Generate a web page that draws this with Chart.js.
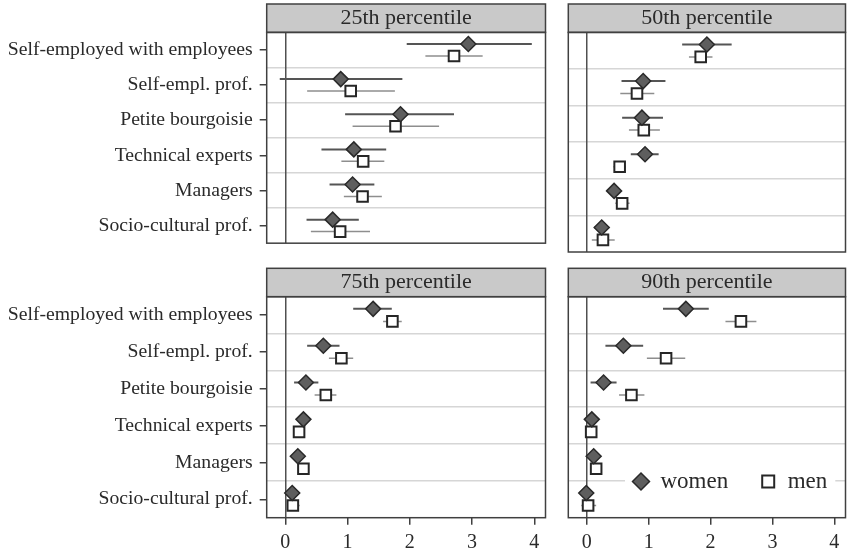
<!DOCTYPE html>
<html>
<head>
<meta charset="utf-8">
<title>Coefficients by percentile</title>
<script src="https://cdn.jsdelivr.net/npm/chart.js@4.4.1/dist/chart.umd.min.js"></script>
<style>
  html, body { margin: 0; padding: 0; background: #fff; overflow: hidden; width: 851px; height: 555px; }
  canvas { position: absolute; display: block; }
</style>
</head>
<body>
<canvas id="p25" width="555" height="262" style="left:0;top:0;width:555px;height:262px"></canvas>
<canvas id="p50" width="300" height="262" style="left:555px;top:0;width:300px;height:262px"></canvas>
<canvas id="p75" width="555" height="293" style="left:0;top:262px;width:555px;height:293px"></canvas>
<canvas id="p90" width="300" height="293" style="left:555px;top:262px;width:300px;height:293px"></canvas>
<canvas id="legend" width="270" height="130" style="left:601px;top:437.5px;width:270px;height:130px"></canvas>
<script>
// ---- data ----
const categories = [
  'Self-employed with employees',
  'Self-empl. prof.',
  'Petite bourgoisie',
  'Technical experts',
  'Managers',
  'Socio-cultural prof.'
];
const panelTitles = ['25th percentile', '50th percentile', '75th percentile', '90th percentile'];
const xTicks = [0, 1, 2, 3, 4];

// 25th percentile
const women25   = [2.94, 0.89, 1.85, 1.10, 1.08, 0.76];
const women25Lo = [1.95, -0.09, 0.96, 0.58, 0.71, 0.34];
const women25Hi = [3.96, 1.88, 2.71, 1.62, 1.43, 1.18];
const men25     = [2.71, 1.05, 1.77, 1.25, 1.24, 0.88];
const men25Lo   = [2.25, 0.35, 1.08, 0.90, 0.94, 0.41];
const men25Hi   = [3.17, 1.76, 2.47, 1.59, 1.55, 1.36];

// 50th percentile
const women50   = [1.94, 0.91, 0.89, 0.94, 0.44, 0.24];
const women50Lo = [1.54, 0.56, 0.57, 0.71, 0.33, 0.12];
const women50Hi = [2.34, 1.27, 1.23, 1.16, 0.54, 0.36];
const men50     = [1.84, 0.81, 0.92, 0.53, 0.57, 0.26];
const men50Lo   = [1.65, 0.54, 0.68, 0.43, 0.46, 0.08];
const men50Hi   = [2.03, 1.09, 1.18, 0.63, 0.69, 0.45];

// 75th percentile
const women75   = [1.41, 0.61, 0.33, 0.29, 0.20, 0.11];
const women75Lo = [1.09, 0.35, 0.14, 0.19, 0.12, 0.03];
const women75Hi = [1.71, 0.87, 0.53, 0.40, 0.28, 0.19];
const men75     = [1.72, 0.90, 0.65, 0.22, 0.29, 0.12];
const men75Lo   = [1.57, 0.70, 0.47, 0.15, 0.21, 0.04];
const men75Hi   = [1.87, 1.09, 0.82, 0.29, 0.37, 0.23];

// 90th percentile
const women90   = [1.60, 0.59, 0.27, 0.08, 0.11, -0.01];
const women90Lo = [1.23, 0.30, 0.06, -0.01, 0.04, -0.10];
const women90Hi = [1.97, 0.91, 0.48, 0.18, 0.18, 0.08];
const men90     = [2.49, 1.28, 0.72, 0.07, 0.15, 0.02];
const men90Lo   = [2.24, 0.97, 0.52, 0.01, 0.08, -0.09];
const men90Hi   = [2.74, 1.59, 0.93, 0.13, 0.22, 0.15];

// ---- styling ----
const SERIF = '"Liberation Serif", "Times New Roman", "DejaVu Serif", serif';
const TEXT = '#2a2a2a';
const FRAME = '#404040';
const HEADER_FILL = '#c9c9c9';
const SEP = '#d6d6d6';
const ZERO = '#505050';
const WOMEN_FILL = '#5e5e5e';
const WOMEN_EDGE = '#2a2a2a';
const WOMEN_CI = '#555555';
const MEN_EDGE = '#262626';
const MEN_CI = '#8e8e8e';
const ROW_SHIFT = 0.17;   // women sit just above, men just below each category row

// gray header strip behind the panel title and the frame round the plot region
const panelFrame = {
  id: 'panelFrame',
  beforeDraw(chart) {
    const { ctx, chartArea: a } = chart;
    const t = chart.titleBlock;
    ctx.save();
    ctx.fillStyle = HEADER_FILL;
    ctx.fillRect(a.left, t.top, a.right - a.left, t.bottom - t.top);
    ctx.restore();
  },
  afterDraw(chart) {
    const { ctx, chartArea: a } = chart;
    const t = chart.titleBlock;
    ctx.save();
    ctx.strokeStyle = FRAME;
    ctx.lineWidth = 1.5;
    ctx.strokeRect(a.left, t.top, a.right - a.left, t.bottom - t.top);
    ctx.strokeRect(a.left, a.top, a.right - a.left, a.bottom - a.top);
    ctx.restore();
  }
};

function ciSegments(lo, hi, shift) {
  const pts = [];
  lo.forEach((v, i) => {
    pts.push({ x: v, y: i + shift }, { x: hi[i], y: i + shift }, { x: null, y: null });
  });
  return pts;
}

function makePanel(id, title, w, wLo, wHi, m, mLo, mHi, isLeft, isBottom) {
  const halfTicks = [];
  for (let v = 0; v <= categories.length - 1; v += 0.5) halfTicks.push(v);

  return new Chart(document.getElementById(id), {
    type: 'scatter',
    data: {
      datasets: [
        {
          label: 'women',
          data: w.map((v, i) => ({ x: v, y: i - ROW_SHIFT })),
          pointStyle: 'rectRot',
          pointRadius: 7.5,
          backgroundColor: WOMEN_FILL,
          borderColor: WOMEN_EDGE,
          borderWidth: 1.5,
          order: 0
        },
        {
          label: 'men',
          data: m.map((v, i) => ({ x: v, y: i + ROW_SHIFT })),
          pointStyle: 'rect',
          pointRadius: 7.5,
          backgroundColor: '#ffffff',
          borderColor: MEN_EDGE,
          borderWidth: 2,
          order: 0
        },
        {
          label: 'women CI',
          data: ciSegments(wLo, wHi, -ROW_SHIFT),
          showLine: true,
          spanGaps: false,
          pointRadius: 0,
          borderColor: WOMEN_CI,
          borderWidth: 2,
          order: 1
        },
        {
          label: 'men CI',
          data: ciSegments(mLo, mHi, ROW_SHIFT),
          showLine: true,
          spanGaps: false,
          pointRadius: 0,
          borderColor: MEN_CI,
          borderWidth: 1.5,
          order: 1
        }
      ]
    },
    options: {
      responsive: false,
      animation: false,
      events: [],
      layout: {
        padding: {
          top: isBottom ? 6.3 : 4,
          bottom: isBottom ? 0 : 10,
          left: 0,
          right: isLeft ? 4 : 2.7
        }
      },
      scales: {
        y: {
          type: 'linear',
          reverse: true,
          min: -0.5,
          max: categories.length - 0.5,
          afterBuildTicks: s => { s.ticks = halfTicks.map(v => ({ value: v })); },
          afterFit: s => { s.width = isLeft ? 266.7 : 13.3; },
          border: { display: false },
          grid: {
            color: c => (c.tick && Number.isInteger(c.tick.value)) ? 'rgba(0,0,0,0)' : SEP,
            lineWidth: 1.5,
            drawTicks: isLeft,
            tickLength: 7,
            tickWidth: 1.5,
            tickColor: c => (c.tick && Number.isInteger(c.tick.value)) ? FRAME : 'rgba(0,0,0,0)'
          },
          ticks: {
            display: isLeft,
            autoSkip: false,
            padding: 7,
            color: TEXT,
            font: { family: SERIF, size: 19.7 },
            callback: v => Number.isInteger(v) ? categories[v] : ''
          }
        },
        x: {
          type: 'linear',
          min: -0.3,
          max: 4.18,
          afterBuildTicks: s => { s.ticks = xTicks.map(v => ({ value: v })); },
          afterFit: s => { s.height = isBottom ? 37.3 : 0; },
          border: { display: false },
          grid: {
            z: 0,
            color: c => (c.tick && c.tick.value === 0) ? ZERO : 'rgba(0,0,0,0)',
            lineWidth: 1.5,
            drawTicks: isBottom,
            tickLength: 7,
            tickWidth: 1.5,
            tickColor: FRAME
          },
          ticks: {
            display: isBottom,
            padding: 6,
            color: TEXT,
            autoSkip: false,
            maxRotation: 0,
            font: { family: SERIF, size: 20 }
          }
        }
      },
      plugins: {
        legend: { display: false },
        tooltip: { enabled: false },
        title: {
          display: true,
          text: title,
          fullSize: false,
          color: TEXT,
          font: { family: SERIF, size: 22, weight: 'normal' },
          padding: { top: 1, bottom: 1 }
        }
      }
    },
    plugins: [panelFrame]
  });
}

makePanel('p25', panelTitles[0], women25, women25Lo, women25Hi, men25, men25Lo, men25Hi, true, false);
makePanel('p50', panelTitles[1], women50, women50Lo, women50Hi, men50, men50Lo, men50Hi, false, false);
makePanel('p75', panelTitles[2], women75, women75Lo, women75Hi, men75, men75Lo, men75Hi, true, true);
makePanel('p90', panelTitles[3], women90, women90Lo, women90Hi, men90, men90Lo, men90Hi, false, true);

// legend key set inside the lower-right panel, on a white patch
const legendBackdrop = {
  id: 'legendBackdrop',
  beforeDraw(chart) {
    const lg = chart.legend;
    const pad = lg.options.labels.padding;
    const cy = lg.top + pad + 11.5;
    const ctx = chart.ctx;
    ctx.save();
    ctx.fillStyle = '#ffffff';
    ctx.fillRect(lg.left + pad - 8, cy - 12, lg.lineWidths[0] - pad + 16, 24);
    ctx.restore();
  }
};

new Chart(document.getElementById('legend'), {
  type: 'scatter',
  data: {
    datasets: [
      { label: 'women', data: [], pointStyle: 'rectRot', backgroundColor: WOMEN_FILL, borderColor: WOMEN_EDGE, borderWidth: 1.5 },
      { label: 'men', data: [], pointStyle: 'rect', backgroundColor: '#ffffff', borderColor: MEN_EDGE, borderWidth: 2 }
    ]
  },
  options: {
    responsive: false,
    animation: false,
    events: [],
    layout: { padding: 0 },
    scales: { x: { display: false }, y: { display: false } },
    plugins: {
      tooltip: { enabled: false },
      legend: {
        display: true,
        position: 'top',
        align: 'start',
        labels: {
          usePointStyle: true,
          boxWidth: 16,
          boxHeight: 12,
          padding: 32,
          color: TEXT,
          font: { family: SERIF, size: 23 }
        }
      }
    }
  },
  plugins: [legendBackdrop]
});
</script>
</body>
</html>
